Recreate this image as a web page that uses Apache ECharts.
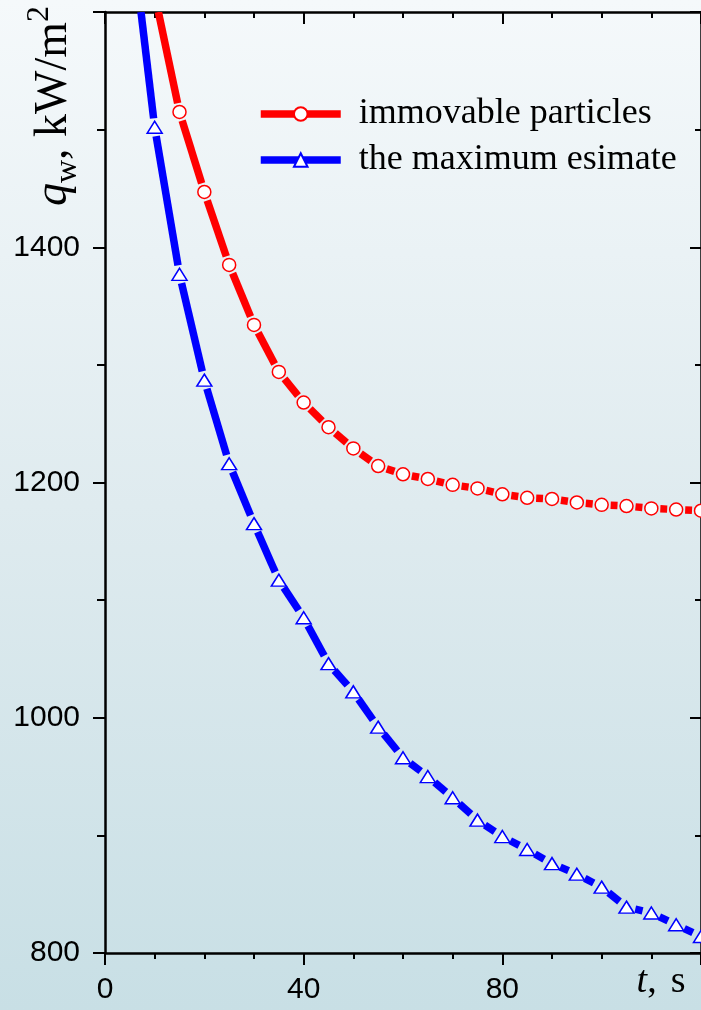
<!DOCTYPE html>
<html>
<head>
<meta charset="utf-8">
<title>q_w vs t</title>
<script src="https://cdn.jsdelivr.net/npm/echarts@6/dist/echarts.min.js"></script>
<style>
  html, body { margin: 0; padding: 0; }
  #chart { width: 701px; height: 1010px; }
</style>
</head>
<body>
<div id="chart"></div>
<script>
// data (t in s, q_w in kW/m2)
const timeRed = [10, 15, 20, 25, 30, 35, 40, 45, 50, 55, 60, 65, 70, 75, 80, 85, 90, 95, 100, 105, 110, 115, 120];
const qImmovable = [1615, 1515, 1447, 1385, 1334, 1294, 1268, 1247, 1229, 1214, 1207, 1203, 1198, 1195, 1190, 1187, 1186, 1183, 1181, 1180, 1178, 1177, 1176];
const timeBlue = [5, 10, 15, 20, 25, 30, 35, 40, 45, 50, 55, 60, 65, 70, 75, 80, 85, 90, 95, 100, 105, 110, 115, 120];
const qMaximum = [1680, 1502, 1377, 1287, 1216, 1165, 1117, 1085, 1046, 1022, 992, 966, 950, 932, 913, 899, 888, 876, 867, 856, 839, 834, 824, 814];
const seriesNames = ['immovable particles', 'the maximum esimate'];
const xTicks = [0, 40, 80]; // labelled ticks, 120 carries the axis name

const RED = '#ff0000';
const BLUE = '#0000ff';
const GAP = 9; // gap between line and symbol, px
const sans = 'Liberation Sans, Arial, sans-serif';
const serif = 'Liberation Serif, Times New Roman, serif';

const pairs = (xs, ys) => xs.map((x, i) => [x, ys[i]]);

// line pieces between neighbouring points, cut short round each symbol
function gapSegments(xs, ys, color) {
  return function (params, api) {
    const i = params.dataIndex;
    if (i >= xs.length - 1) return null;
    const a = api.coord([xs[i], ys[i]]);
    const b = api.coord([xs[i + 1], ys[i + 1]]);
    const dx = b[0] - a[0], dy = b[1] - a[1];
    const len = Math.hypot(dx, dy);
    if (len <= 2 * GAP) return null;
    const ux = dx / len, uy = dy / len;
    let p0 = [a[0] + ux * GAP, a[1] + uy * GAP];
    const p1 = [b[0] - ux * GAP, b[1] - uy * GAP];
    const top = params.coordSys.y;
    if (p1[1] < top) return null;
    if (p0[1] < top) {
      const k = (top - p0[1]) / (p1[1] - p0[1]);
      p0 = [p0[0] + k * (p1[0] - p0[0]), top];
    }
    return {
      type: 'line',
      shape: { x1: p0[0], y1: p0[1], x2: p1[0], y2: p1[1] },
      style: { stroke: color, lineWidth: 7.5, lineCap: 'butt' }
    };
  };
}

const axisLine = { show: true, onZero: false, lineStyle: { color: '#000', width: 2.5 } };
const tickStyle = { color: '#000', width: 2 };

const chart = echarts.init(document.getElementById('chart'));
const option = {
  animation: false,
  backgroundColor: {
    type: 'linear', x: 0, y: 0, x2: 0, y2: 1,
    colorStops: [
      { offset: 0, color: '#f5f9fb' },
      { offset: 0.5, color: '#dfebef' },
      { offset: 1, color: '#c8dfe5' }
    ]
  },
  grid: { left: 105, right: 0, top: 12, bottom: 57, containLabel: false, outerBoundsMode: 'none' },
  xAxis: [
    {
      type: 'value', min: 0, max: 120, interval: 40, position: 'bottom',
      axisLine: axisLine,
      axisTick: { inside: false, length: 12, lineStyle: tickStyle },
      minorTick: { show: true, splitNumber: 4, length: 6, lineStyle: tickStyle },
      splitLine: { show: false },
      axisLabel: {
        color: '#000', fontFamily: sans, fontSize: 30, margin: 22,
        formatter: v => (xTicks.includes(v) ? String(v) : '')
      }
    },
    {
      type: 'value', min: 0, max: 120, interval: 40, position: 'top',
      axisLine: axisLine,
      axisTick: { inside: true, length: 12, lineStyle: tickStyle },
      minorTick: { show: true, splitNumber: 4, length: 6, lineStyle: tickStyle },
      splitLine: { show: false },
      axisLabel: { show: false }
    }
  ],
  yAxis: [
    {
      type: 'value', min: 800, max: 1600, interval: 200, position: 'left',
      axisLine: axisLine,
      axisTick: { inside: false, length: 12, lineStyle: tickStyle },
      minorTick: { show: true, splitNumber: 2, length: 8, lineStyle: tickStyle },
      splitLine: { show: false },
      axisLabel: {
        color: '#000', fontFamily: sans, fontSize: 30, margin: 25, showMaxLabel: false,
        formatter: v => String(v)
      }
    },
    {
      type: 'value', min: 800, max: 1600, interval: 200, position: 'right',
      axisLine: axisLine,
      axisTick: { inside: true, length: 11, lineStyle: tickStyle },
      minorTick: { show: true, splitNumber: 2, length: 6, lineStyle: tickStyle },
      splitLine: { show: false },
      axisLabel: { show: false }
    }
  ],
  legend: {
    orient: 'vertical', left: 252, top: 89,
    itemWidth: 80, itemHeight: 17, itemGap: 6,
    selectedMode: false,
    textStyle: { color: '#000', fontFamily: serif, fontSize: 36, lineHeight: 40, padding: [0, 0, 0, 13] },
    data: [
      { name: seriesNames[0], lineStyle: { color: RED, width: 7.5, opacity: 1, type: 'solid' } },
      { name: seriesNames[1], lineStyle: { color: BLUE, width: 7.5, opacity: 1, type: 'solid' } }
    ]
  },
  series: [
    {
      type: 'custom', name: 'red-line', clip: true, silent: true, z: 2,
      data: pairs(timeRed, qImmovable),
      renderItem: gapSegments(timeRed, qImmovable, RED)
    },
    {
      type: 'line', name: seriesNames[0], clip: true, z: 3,
      data: pairs(timeRed, qImmovable),
      symbol: 'circle', symbolSize: 13, showAllSymbol: true,
      lineStyle: { width: 0, opacity: 0 },
      itemStyle: { color: '#fff', borderColor: RED, borderWidth: 1.5 }
    },
    {
      type: 'custom', name: 'blue-line', clip: true, silent: true, z: 2,
      data: pairs(timeBlue, qMaximum),
      renderItem: gapSegments(timeBlue, qMaximum, BLUE)
    },
    {
      type: 'line', name: seriesNames[1], clip: true, z: 3,
      data: pairs(timeBlue, qMaximum),
      symbol: 'triangle', symbolSize: [15, 12], showAllSymbol: true,
      lineStyle: { width: 0, opacity: 0 },
      itemStyle: { color: '#fff', borderColor: BLUE, borderWidth: 1.5 }
    }
  ],
  graphic: [
    {
      // y axis title, reads bottom to top
      type: 'text', x: 54, y: 106, rotation: Math.PI / 2,
      style: {
        text: '{q|q}{w|w}{n|, kW/m}{s|2}',
        align: 'center', verticalAlign: 'middle', fill: '#000',
        rich: {
          q: { fontFamily: serif, fontStyle: 'italic', fontSize: 46, lineHeight: 60, verticalAlign: 'middle' },
          w: { fontFamily: serif, fontSize: 32, lineHeight: 16, verticalAlign: 'bottom' },
          n: { fontFamily: serif, fontSize: 46, lineHeight: 60, verticalAlign: 'middle' },
          s: { fontFamily: serif, fontSize: 32, lineHeight: 18, verticalAlign: 'top' }
        }
      }
    },
    {
      // x axis title in place of the 120 label
      type: 'text', x: 661, y: 982,
      style: {
        text: '{t|t}{c|,}{s|s}',
        align: 'center', verticalAlign: 'middle', fill: '#000',
        rich: {
          t: { fontFamily: serif, fontStyle: 'italic', fontSize: 38 },
          c: { fontFamily: serif, fontSize: 38 },
          s: { fontFamily: serif, fontSize: 38, padding: [0, 0, 0, 14] }
        }
      }
    }
  ]
};
chart.setOption(option);
</script>
</body>
</html>
